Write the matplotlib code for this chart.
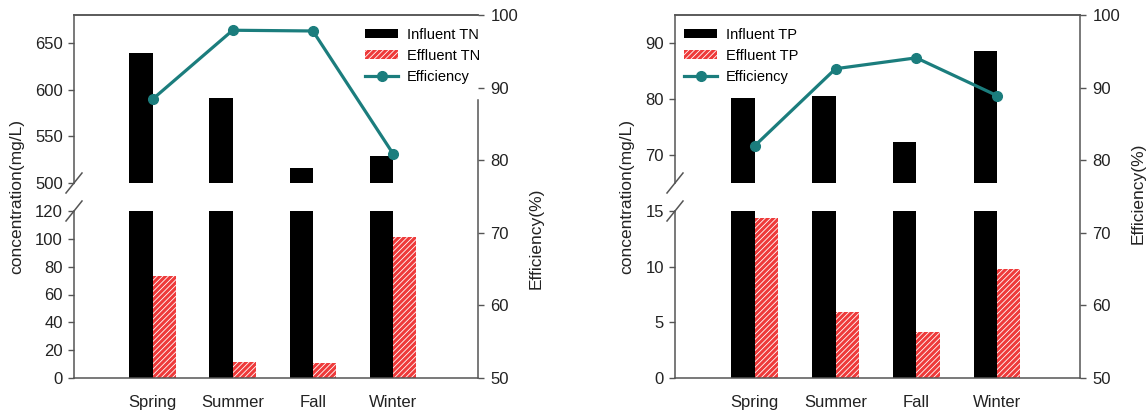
import matplotlib
matplotlib.use("Agg")
import matplotlib.pyplot as plt
from matplotlib.patches import Patch
from matplotlib.lines import Line2D

plt.rcParams['font.family'] = ['Liberation Sans', 'DejaVu Sans']
plt.rcParams['hatch.linewidth'] = 0.6

seasons = ["Spring", "Summer", "Fall", "Winter"]

# TN panel (mg/L, %)
influent_tn = [639.5, 591, 516, 529]
effluent_tn = [73.5, 11.7, 10.5, 101]
eff_tn = [88.4, 97.9, 97.8, 80.9]

# TP panel (mg/L, %)
influent_tp = [80.1, 80.6, 72.3, 88.5]
effluent_tp = [14.4, 5.9, 4.15, 9.8]
eff_tp = [82.0, 92.6, 94.1, 88.9]

TEAL = "#1b7d7d"
RED = "#ee3a3a"
SPINE = "#555555"
W = 0.29

fig = plt.figure(figsize=(11.46, 4.19), dpi=100)

# figure fractions (from pixel positions)
y_bot = 1 - 378 / 419
y_low_top = 1 - 211 / 419
y_up_bot = 1 - 183 / 419
y_top = 1 - 15 / 419


def panel(x0, width, xlim, influent, effluent, eff, up_lim, up_ticks, low_lim, low_ticks,
          tag, legend_x, eff_label_y, right_spine_top, ylabel_x):
    ax_up = fig.add_axes([x0, y_up_bot, width, y_top - y_up_bot])
    ax_lo = fig.add_axes([x0, y_bot, width, y_low_top - y_bot])
    ax_ef = fig.add_axes([x0, y_bot, width, y_top - y_bot], facecolor="none")

    x = list(range(len(seasons)))
    xi = [v - W / 2 for v in x]
    xe = [v + W / 2 for v in x]
    for ax in (ax_up, ax_lo):
        ax.bar(xi, influent, W, color="black", zorder=2)
        ax.bar(xe, effluent, W, color=RED, edgecolor="white", linewidth=0,
               hatch="//////", zorder=2)
        ax.set_xlim(*xlim)
        for s in ax.spines.values():
            s.set_color(SPINE)
            s.set_linewidth(1.1)
        ax.spines['right'].set_visible(False)
        ax.tick_params(axis='y', direction='out', length=4, width=1, color=SPINE,
                       labelsize=12, pad=4, labelcolor="#222222")

    ax_up.set_ylim(*up_lim)
    ax_up.set_yticks(up_ticks)
    ax_up.spines['bottom'].set_visible(False)
    ax_up.set_xticks([])

    ax_lo.set_ylim(*low_lim)
    ax_lo.set_yticks(low_ticks)
    ax_lo.spines['top'].set_visible(False)
    ax_lo.set_xticks(x)
    ax_lo.set_xticklabels(seasons)
    ax_lo.tick_params(axis='x', length=0, pad=12, labelsize=12, labelcolor="#222222")

    # hide tick marks under the break slashes
    for t in ax_up.yaxis.get_major_ticks():
        if t.get_loc() == up_lim[0]:
            t.tick1line.set_visible(False)
    for t in ax_lo.yaxis.get_major_ticks():
        if t.get_loc() == low_lim[1]:
            t.tick1line.set_visible(False)

    # break marks on the left spine
    d = dict(transform=fig.transFigure, color=SPINE, lw=1.1, clip_on=False)
    xl = x0
    dx = 8 / 1146
    dy = 10 / 419
    fig.add_artist(Line2D([xl - dx, xl + dx], [y_up_bot - dy, y_up_bot + dy], **d))
    fig.add_artist(Line2D([xl - dx, xl + dx], [y_low_top - dy, y_low_top + dy], **d))

    # efficiency axis
    ax_ef.plot(x, eff, color=TEAL, lw=2.3, marker="o", ms=7, zorder=5)
    ax_ef.set_xlim(*xlim)
    ax_ef.set_ylim(50, 100)
    ax_ef.set_yticks([50, 60, 70, 80, 90, 100])
    ax_ef.set_xticks([])
    ax_ef.yaxis.tick_right()
    ax_ef.yaxis.set_label_position("right")
    for side in ("left", "bottom"):
        ax_ef.spines[side].set_visible(False)
    ax_ef.spines['top'].set_color(SPINE)
    ax_ef.spines['top'].set_linewidth(1.1)
    ax_ef.spines['right'].set_color(SPINE)
    ax_ef.spines['right'].set_linewidth(1.1)
    ax_ef.spines['right'].set_bounds(50, right_spine_top)
    ax_ef.tick_params(axis='y', direction='out', length=4, width=1, color=SPINE,
                      labelsize=12, pad=5, labelcolor="#222222")
    ax_ef.set_ylabel("Efficiency(%)", fontsize=12.5, color="#222222")
    ax_ef.yaxis.set_label_coords(1.125, eff_label_y)

    fig.text(ylabel_x, 1 - 197 / 419, "concentration(mg/L)", rotation=90,
             fontsize=12.5, color="#222222", ha="center", va="center")

    handles = [
        Patch(facecolor="black", label="Influent " + tag),
        Patch(facecolor=RED, edgecolor="white", linewidth=0, hatch="//////",
              label="Effluent " + tag),
        Line2D([], [], color=TEAL, lw=2.3, marker="o", ms=7, label="Efficiency"),
    ]
    ax_ef.legend(handles=handles, loc="upper left", bbox_to_anchor=(legend_x, 0.965),
                 frameon=False, borderaxespad=0, borderpad=0, handlelength=2.3,
                 handleheight=0.6, handletextpad=0.6, labelspacing=0.5,
                 prop={'family': ['Liberation Sans Narrow', 'Liberation Sans'],
                       'size': 10.5})
    return ax_up, ax_lo, ax_ef


panel(74 / 1146, 404 / 1146, (-0.98, 4.06), influent_tn, effluent_tn, eff_tn,
      (500, 680), [500, 550, 600, 650], (0, 120), [0, 20, 40, 60, 80, 100, 120],
      "TN", 0.72, 0.386, 88.3, 17 / 1146)

panel(675 / 1146, 405 / 1146, (-0.99, 4.03), influent_tp, effluent_tp, eff_tp,
      (65, 95), [70, 80, 90], (0, 15), [0, 5, 10, 15],
      "TP", 0.022, 0.51, 100, 627 / 1146)

fig.savefig("out.png", dpi=100)
